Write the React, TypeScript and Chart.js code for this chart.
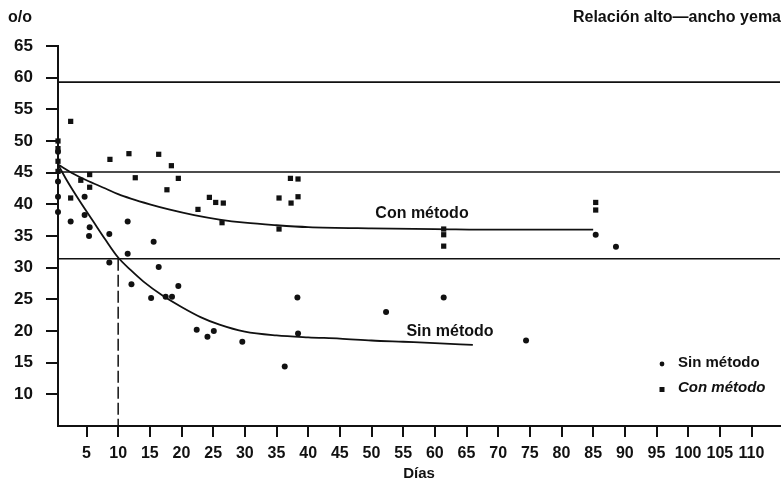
import React, { useEffect, useRef } from 'react';
import { Chart, registerables } from 'chart.js';

Chart.register(...registerables);

// ---- Axis ticks ----
const xTicks = [5, 10, 15, 20, 25, 30, 35, 40, 45, 50, 55, 60, 65, 70, 75, 80, 85, 90, 95, 100, 105, 110];
const yTicks = [10, 15, 20, 25, 30, 35, 40, 45, 50, 55, 60, 65];
const X_MIN = 0.5;
const X_MAX = 114.5;
const Y_MIN = 5;
const Y_MAX = 65;

// ---- Observed points: Sin método (round dots) ----
const sinDays = [0.5, 0.5, 0.5, 0.5, 2.5, 4.7, 4.7, 5.5, 5.4, 8.6, 8.6, 11.5, 11.5, 12.1, 15.2, 15.6, 16.4, 17.5, 18.5, 19.5, 22.4, 24.1, 25.1, 29.6, 38.3, 38.4, 36.3, 52.3, 61.4, 74.4, 85.4, 88.6];
const sinValues = [48.3, 43.6, 41.2, 38.8, 37.3, 41.2, 38.3, 36.4, 35.0, 35.3, 30.8, 37.3, 32.2, 27.4, 25.2, 34.1, 30.1, 25.4, 25.4, 27.1, 20.2, 19.1, 20.0, 18.3, 25.3, 19.6, 14.4, 23.0, 25.3, 18.5, 35.2, 33.3];

// ---- Observed points: Con método (squares) ----
const conDays = [0.5, 0.5, 0.5, 0.5, 2.5, 2.5, 4.1, 5.5, 5.5, 8.7, 11.7, 12.7, 16.4, 18.4, 17.7, 19.5, 22.6, 24.4, 25.4, 26.6, 26.4, 35.4, 37.2, 38.4, 38.4, 37.3, 35.4, 61.4, 61.4, 61.4, 85.4, 85.4];
const conValues = [50.0, 48.8, 46.8, 45.2, 53.1, 41.0, 43.8, 44.7, 42.7, 47.1, 48.0, 44.2, 47.9, 46.1, 42.3, 44.1, 39.2, 41.1, 40.3, 40.2, 37.1, 41.0, 44.1, 44.0, 41.2, 40.2, 36.1, 36.1, 35.2, 33.4, 40.3, 39.1];

// ---- Fitted curves ----
const sinCurveDays = [0.5, 2, 4, 6, 8, 10, 12, 14, 17, 20, 23, 26, 30, 35, 40, 45, 50, 55, 60, 66];
const sinCurveValues = [46.3, 43.6, 40.4, 37.4, 34.4, 31.6, 29.6, 27.8, 25.6, 23.8, 22.2, 21.0, 19.9, 19.3, 19.0, 18.8, 18.5, 18.3, 18.1, 17.8];
const conCurveDays = [0.5, 3, 5, 8, 10, 12, 15, 18, 22, 26, 30, 35, 40, 50, 60, 70, 85];
const conCurveValues = [46.3, 44.8, 43.8, 42.5, 41.6, 40.9, 40.0, 39.2, 38.3, 37.6, 37.1, 36.7, 36.4, 36.2, 36.1, 36.0, 36.0];

// ---- Reference levels ----
const refLevels = [59.3, 45.1, 31.4];
const dropDay = 10;
const dropValue = 31.4;

const INK = '#111111';
const FONT = '"Liberation Sans", Arial, Helvetica, sans-serif';

const textPlugin = {
  id: 'textPlugin',
  afterDraw(chart: any) {
    const ctx = chart.ctx;
    ctx.save();
    ctx.fillStyle = INK;
    // unit label
    ctx.font = `bold 16px ${FONT}`;
    ctx.textAlign = 'left';
    ctx.textBaseline = 'alphabetic';
    ctx.fillText('o/o', 8, 22);
    // title
    ctx.font = `bold 16px ${FONT}`;
    ctx.textAlign = 'right';
    ctx.fillText('Relación alto—ancho yema', 781, 22);
    // x axis title
    ctx.textAlign = 'center';
    ctx.textBaseline = 'middle';
    ctx.font = `bold 15px ${FONT}`;
    ctx.fillText('Días', 419, 474);
    // curve labels
    ctx.font = `bold 16px ${FONT}`;
    ctx.fillText('Con método', 422, 214);
    ctx.fillText('Sin método', 450, 332);
    // legend
    ctx.textAlign = 'left';
    ctx.font = `bold 15px ${FONT}`;
    ctx.beginPath();
    ctx.arc(662, 364, 2.4, 0, Math.PI * 2);
    ctx.fill();
    ctx.fillText('Sin método', 678, 363);
    ctx.fillRect(659.5, 387, 5, 5);
    ctx.font = `italic bold 15px ${FONT}`;
    ctx.fillText('Con método', 678, 388);
    ctx.restore();
  },
};

export default function App() {
  const ref = useRef<HTMLCanvasElement | null>(null);

  useEffect(() => {
    if (!ref.current) return;
    const lineDs = (data: { x: number; y: number }[], extra: any = {}) => ({
      type: 'scatter' as const,
      data,
      showLine: true,
      borderColor: INK,
      borderWidth: 1.6,
      pointRadius: 0,
      fill: false,
      clip: false,
      ...extra,
    });

    const datasets: any[] = [
      ...refLevels.map((lv) =>
        lineDs([
          { x: X_MIN, y: lv },
          { x: X_MAX, y: lv },
        ])
      ),
      lineDs(
        [
          { x: dropDay, y: dropValue },
          { x: dropDay, y: Y_MIN },
        ],
        { borderDash: [12, 4], borderWidth: 1.5 }
      ),
      lineDs(
        sinCurveDays.map((d, i) => ({ x: d, y: sinCurveValues[i] })),
        { cubicInterpolationMode: 'monotone', borderWidth: 1.8 }
      ),
      lineDs(
        conCurveDays.map((d, i) => ({ x: d, y: conCurveValues[i] })),
        { cubicInterpolationMode: 'monotone', borderWidth: 1.8 }
      ),
      {
        type: 'scatter',
        data: sinDays.map((d, i) => ({ x: d, y: sinValues[i] })),
        pointStyle: 'circle',
        pointRadius: 3,
        backgroundColor: INK,
        borderColor: INK,
        borderWidth: 0,
        clip: false,
      },
      {
        type: 'scatter',
        data: conDays.map((d, i) => ({ x: d, y: conValues[i] })),
        pointStyle: 'rect',
        pointRadius: 3.7,
        backgroundColor: INK,
        borderColor: INK,
        borderWidth: 0,
        clip: false,
      },
    ];

    const chart = new Chart(ref.current, {
      type: 'scatter',
      data: { datasets },
      plugins: [textPlugin],
      options: {
        responsive: true,
        maintainAspectRatio: false,
        animation: false,
        layout: { padding: { top: 46, left: 0, right: 0, bottom: 0 } },
        plugins: { legend: { display: false }, tooltip: { enabled: false } },
        scales: {
          x: {
            type: 'linear',
            min: X_MIN,
            max: X_MAX,
            afterBuildTicks: (s: any) => {
              s.ticks = xTicks.map((v) => ({ value: v }));
            },
            afterFit: (s: any) => {
              s.height = 63;
            },
            ticks: {
              font: { family: FONT, size: 16, weight: 'bold' },
              color: INK,
              padding: 7,
              maxRotation: 0,
              autoSkip: false,
            },
            grid: {
              display: true,
              drawOnChartArea: false,
              drawTicks: true,
              tickLength: 11,
              color: INK,
              lineWidth: 2,
            },
            border: { display: true, color: INK, width: 2 },
          },
          y: {
            type: 'linear',
            min: Y_MIN,
            max: Y_MAX,
            afterBuildTicks: (s: any) => {
              s.ticks = yTicks.map((v) => ({ value: v }));
            },
            afterFit: (s: any) => {
              s.width = 58;
            },
            ticks: {
              font: { family: FONT, size: 17, weight: 'bold' },
              color: INK,
              padding: 13,
              autoSkip: false,
            },
            grid: {
              display: true,
              drawOnChartArea: false,
              drawTicks: true,
              tickLength: 12,
              color: INK,
              lineWidth: 2,
            },
            border: { display: true, color: INK, width: 2 },
          },
        },
      },
    });
    return () => chart.destroy();
  }, []);

  return (
    <div style={{ position: 'fixed', left: 0, top: 0, width: 784, height: 489, background: '#fff' }}>
      <canvas ref={ref} />
    </div>
  );
}
